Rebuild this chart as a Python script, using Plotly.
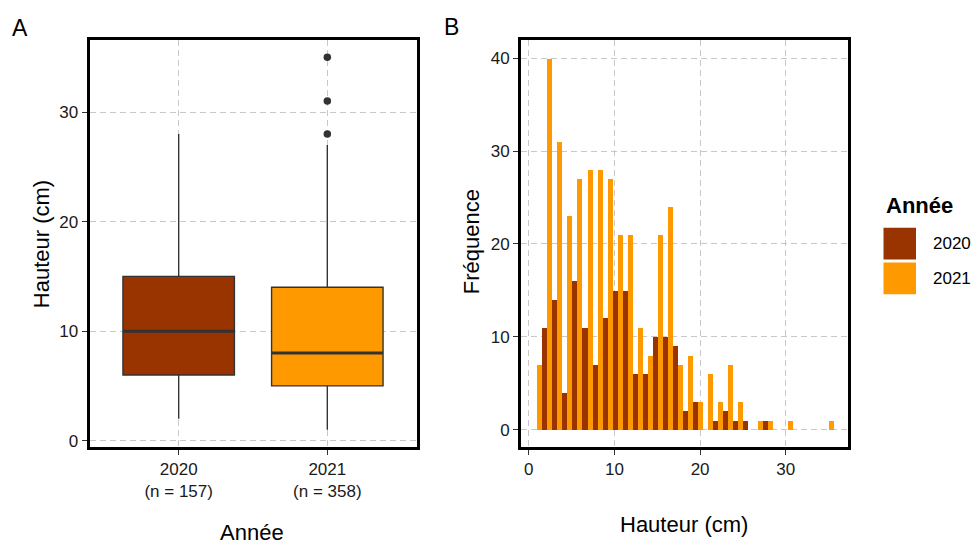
import plotly.graph_objects as go

# ---------------- data ----------------
years = ["2020", "2021"]
n_obs = [157, 358]
year_colors = ["#993300", "#FF9900"]

box_lower = [2, 1]
box_q1 = [6, 5]
box_median = [10, 8]
box_q3 = [15, 14]
box_upper = [28, 27]
outliers_2021 = [28, 31, 35]

hist_min, hist_max, n_bins = 1, 35, 30
counts_2020 = [0, 11, 14, 4, 16, 11, 7, 12, 15, 15, 6, 6, 10, 10, 9, 2, 3, 0, 1, 2,
               1, 1, 0, 1, 0, 0, 0, 0, 0, 0]
counts_2021 = [7, 40, 31, 23, 27, 28, 28, 27, 21, 21, 11, 8, 21, 24, 7, 8, 3, 6, 3, 7,
               3, 0, 1, 1, 0, 1, 0, 0, 0, 1]
counts = [counts_2020, counts_2021]

box_ticks = [0, 10, 20, 30]
hist_xticks = [0, 10, 20, 30]
hist_yticks = [0, 10, 20, 30, 40]

# ---------------- layout helpers ----------------
W, H = 973, 549
def px_x(p):
    return p / W
def px_y(p):
    return 1 - p / H

FONT = "Arial, 'Liberation Sans', sans-serif"
TICK_FONT = dict(family=FONT, size=17, color="#1a1a1a")
GRID = dict(showgrid=True, gridcolor="#C8C8C8", gridwidth=1.3, griddash="6px,4px",
            showline=True, mirror=True, linecolor="black", linewidth=2.7,
            ticks="outside", ticklen=5, tickwidth=1, tickcolor="#333333",
            tickfont=TICK_FONT, zeroline=False)

fig = go.Figure()

# ---------------- panel A: boxplots ----------------
cat_pos = [1, 2]
box_w = 0.75
for i, yr in enumerate(years):
    fig.add_trace(go.Box(
        x=[cat_pos[i]], q1=[box_q1[i]], median=[box_median[i]], q3=[box_q3[i]],
        lowerfence=[box_lower[i]], upperfence=[box_upper[i]],
        width=box_w, whiskerwidth=0, fillcolor=year_colors[i],
        line=dict(color="#333333", width=1.4), boxpoints=False,
        showlegend=False, xaxis="x", yaxis="y", hoverinfo="skip"))
    fig.add_trace(go.Scatter(
        x=[cat_pos[i] - box_w / 2, cat_pos[i] + box_w / 2],
        y=[box_median[i], box_median[i]], mode="lines",
        line=dict(color="#333333", width=3), showlegend=False,
        xaxis="x", yaxis="y", hoverinfo="skip"))

fig.add_trace(go.Scatter(
    x=[cat_pos[1]] * len(outliers_2021), y=outliers_2021, mode="markers",
    marker=dict(color="#333333", size=7.5), showlegend=False,
    xaxis="x", yaxis="y", hoverinfo="skip"))

# ---------------- panel B: dodged histogram ----------------
bw = (hist_max - hist_min) / (n_bins - 1)
centers = [hist_min + k * bw for k in range(n_bins)]
for i, yr in enumerate(years):
    fig.add_trace(go.Bar(
        x=centers, y=counts[i], width=bw / 2, offset=(-bw / 2 if i == 0 else 0),
        marker=dict(color=year_colors[i], line=dict(width=0)),
        name=yr, showlegend=False, xaxis="x2", yaxis="y2"))

fig.update_layout(
    width=W, height=H, autosize=False,
    margin=dict(l=0, r=0, t=0, b=0),
    paper_bgcolor="white", plot_bgcolor="white",
    barmode="overlay", bargap=0,
    font=dict(family=FONT, color="black"),
    xaxis=dict(domain=[px_x(89.5), px_x(416.5)], range=[0.4, 2.6],
               tickvals=cat_pos,
               ticktext=[f"{y}<br>(n = {n})" for y, n in zip(years, n_obs)],
               anchor="y", **GRID),
    yaxis=dict(domain=[px_y(450), px_y(40)], range=[-0.55, 36.6],
               tickvals=box_ticks, anchor="x", **GRID),
    xaxis2=dict(domain=[px_x(521), px_x(847.5)], range=[-0.9, 37.2],
                tickvals=hist_xticks, anchor="y2", **GRID),
    yaxis2=dict(domain=[px_y(450.5), px_y(40)], range=[-1.9, 42],
                tickvals=hist_yticks, anchor="x2", **GRID),
)

ann = []
def add_text(text, x, y, size, xanchor="center", angle=0, bold=False):
    ann.append(dict(text=(f"<b>{text}</b>" if bold else text), x=px_x(x), y=px_y(y),
                    xref="paper", yref="paper", xanchor=xanchor, yanchor="middle",
                    showarrow=False, textangle=angle,
                    font=dict(family=FONT, size=size, color="black")))

add_text("A", 10, 28, 23, xanchor="left")
add_text("B", 442, 27, 23, xanchor="left")
add_text("Hauteur (cm)", 41, 246, 22, angle=-90)
add_text("Année", 252, 536, 22)
add_text("Fréquence", 471, 244, 22, angle=-90)
add_text("Hauteur (cm)", 684, 528, 22)

# manual legend
add_text("Année", 884, 207, 22, xanchor="left", bold=True)
key_y = [(229.5, 261.5), (264.5, 296.5)]
shapes = []
for i, yr in enumerate(years):
    shapes.append(dict(type="rect", xref="paper", yref="paper",
                       x0=px_x(883.5), x1=px_x(916), y0=px_y(key_y[i][1]), y1=px_y(key_y[i][0]),
                       fillcolor=year_colors[i], line=dict(width=0)))
    add_text(yr, 931, (key_y[i][0] + key_y[i][1]) / 2, 17, xanchor="left")

fig.update_layout(annotations=ann, shapes=shapes)
fig.write_html("out.html")
